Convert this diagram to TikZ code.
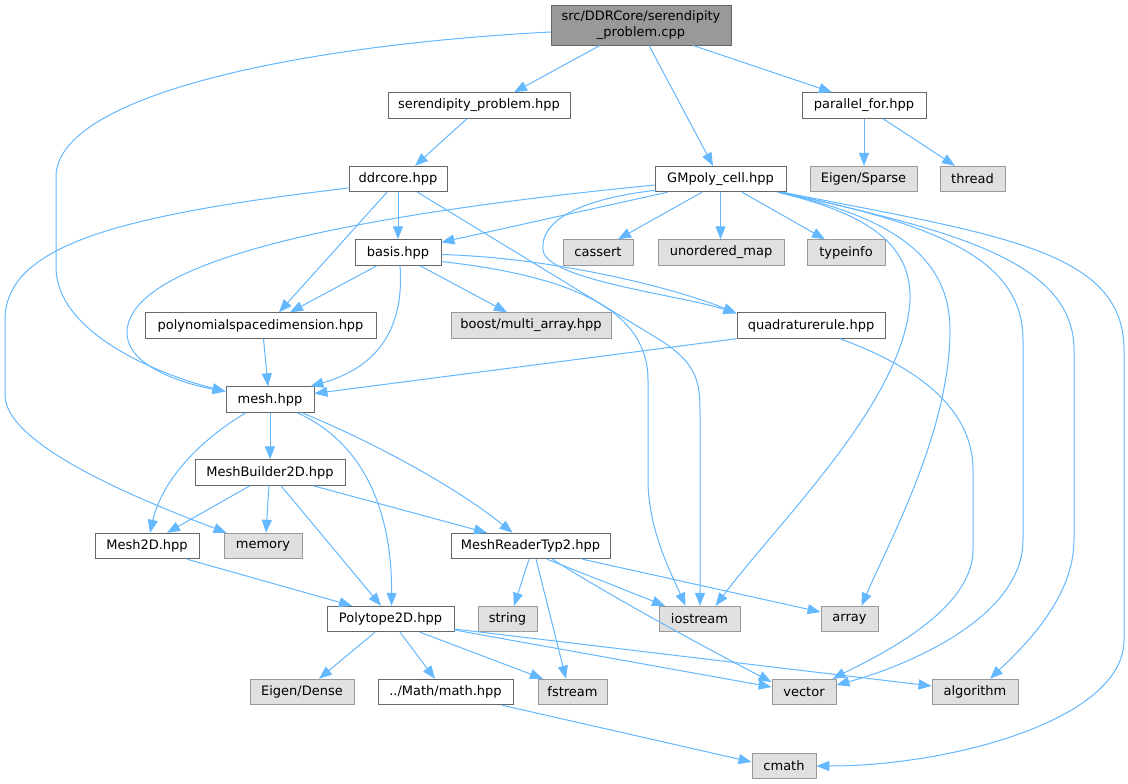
\documentclass[tikz,border=0pt]{standalone}
\usepackage{fontspec}
\setmainfont{DejaVu Sans}
\usetikzlibrary{arrows.meta,calc}
\definecolor{edgec}{HTML}{63B8FF}
\definecolor{bordn}{HTML}{666666}
\definecolor{borde}{HTML}{999999}
\definecolor{fille}{HTML}{E0E0E0}
\definecolor{fillr}{HTML}{999999}
\begin{document}
\begin{tikzpicture}[x=1pt,y=-1pt,font=\fontsize{13}{15.5}\selectfont,
  nbox/.style={draw=bordn,fill=white,line width=0.9pt,minimum height=25.5pt,inner sep=0pt,text=black},
  ebox/.style={draw=borde,fill=fille,line width=0.9pt,minimum height=25.5pt,inner sep=0pt,text=black},
  rbox/.style={draw=bordn,fill=fillr,line width=0.9pt,minimum height=40pt,inner sep=0pt,align=center,text=black},
  conn/.style={draw=edgec,line width=1pt,-{Triangle[length=13pt,width=10pt]}}]
\fill[white] (0,0) rectangle (1128,784);
\useasboundingbox (0,0) rectangle (1128,784);

\node[rbox, minimum width=180pt] (root) at (641,25) {src/DDRCore/serendipity\\\_problem.cpp};
\node[nbox, minimum width=182pt] (sph) at (479,105.5) {serendipity\_problem.hpp};
\node[nbox, minimum width=124pt] (pfor) at (864,105.5) {parallel\_for.hpp};
\node[nbox, minimum width=98pt] (ddr) at (398,179) {ddrcore.hpp};
\node[nbox, minimum width=131pt] (gm) at (720.5,179) {GMpoly\_cell.hpp};
\node[ebox, minimum width=107pt] (es) at (863.5,179) {Eigen/Sparse};
\node[ebox, minimum width=65pt] (thr) at (972.5,179) {thread};
\node[nbox, minimum width=86pt] (basis) at (398,252.5) {basis.hpp};
\node[ebox, minimum width=70pt] (cass) at (598,252.5) {cassert};
\node[ebox, minimum width=126pt] (umap) at (721,252.5) {unordered\_map};
\node[ebox, minimum width=78pt] (tinfo) at (846,252.5) {typeinfo};
\node[nbox, minimum width=231pt] (psd) at (260.5,325.5) {polynomialspacedimension.hpp};
\node[ebox, minimum width=160pt] (boost) at (531,325.5) {boost/multi\_array.hpp};
\node[nbox, minimum width=148pt] (quad) at (811,325.5) {quadraturerule.hpp};
\node[nbox, minimum width=88pt] (mesh) at (270,399.5) {mesh.hpp};
\node[nbox, minimum width=150pt] (mb2d) at (270,472.5) {MeshBuilder2D.hpp};
\node[nbox, minimum width=104pt] (m2d) at (147,546) {Mesh2D.hpp};
\node[ebox, minimum width=78pt] (mem) at (263,546) {memory};
\node[nbox, minimum width=159pt] (mrt) at (530.5,546) {MeshReaderTyp2.hpp};
\node[nbox, minimum width=127pt] (p2d) at (390.5,619) {Polytope2D.hpp};
\node[ebox, minimum width=59pt] (str) at (507.5,619) {string};
\node[ebox, minimum width=81pt] (ios) at (699.5,619) {iostream};
\node[ebox, minimum width=57pt] (arr) at (849.5,619) {array};
\node[ebox, minimum width=104pt] (ed) at (302,692) {Eigen/Dense};
\node[nbox, minimum width=135pt] (math) at (445.5,692) {../Math/math.hpp};
\node[ebox, minimum width=69pt] (fst) at (572.5,692) {fstream};
\node[ebox, minimum width=64pt] (vec) at (804,692) {vector};
\node[ebox, minimum width=86pt] (alg) at (975,692) {algorithm};
\node[ebox, minimum width=64pt] (cmath) at (784,766) {cmath};

% root
\draw[conn] ($(root.south)+(-41,0)$) -- ($(sph.north)+(35,0)$);
\draw[conn] ($(root.south)+(8,0)$) -- ($(gm.north)+(-7.5,0)$);
\draw[conn] ($(root.south)+(52,0)$) -- ($(pfor.north)+(-32,0)$);
\draw[conn] ($(root.west)+(0,7)$) .. controls (300,45) and (56,95) .. (56,177) -- (56,267) .. controls (56,330) and (150,372) .. ($(mesh.west)+(0,-8)$);
% sph, pfor
\draw[conn] ($(sph.south)+(-12,0)$) -- ($(ddr.north)+(17,0)$);
\draw[conn] (pfor.south) -- (pfor.south |- es.north);
\draw[conn] ($(pfor.south)+(19,0)$) -- ($(thr.north)+(-17.5,0)$);
% GMpoly
\draw[conn] ($(gm.west)+(0,6)$) .. controls (350,215) and (127,260) .. (127,333) .. controls (127,365) and (180,383) .. ($(mesh.west)+(0,-8)$);
\draw[conn] ($(gm.south)+(-53,0)$) -- ($(basis.north east)+(0,3)$);
\draw[conn] ($(gm.south west)+(2,-2)$) .. controls (570,200) and (540,225) .. (543,250) .. controls (546,280) and (680,295) .. ($(quad.north west)+(0,1)$);
\draw[conn] ($(gm.south)+(-18.5,0)$) -- ($(cass.north)+(20,0)$);
\draw[conn] (gm.south) -- (gm.south |- umap.north);
\draw[conn] ($(gm.south)+(21.5,0)$) -- ($(tinfo.north)+(-21,0)$);
\draw[conn] ($(gm.south east)+(-9,0)$) .. controls (860,212) and (912,240) .. (910,300) .. controls (905,400) and (780,520) .. ($(ios.north)+(16,0)$);
\draw[conn] ($(gm.south east)+(-8,0)$) .. controls (880,215) and (950,250) .. (950,330) .. controls (950,430) and (890,540) .. ($(arr.north)+(12,0)$);
\draw[conn] ($(gm.south east)+(-7,0)$) .. controls (940,225) and (1023,260) .. (1023,340) -- (1023,540) .. controls (1023,620) and (900,668) .. ($(vec.east)+(0,-7)$);
\draw[conn] ($(gm.south east)+(-6,0)$) .. controls (950,230) and (1074,260) .. (1074,350) -- (1074,540) .. controls (1074,600) and (1020,650) .. ($(alg.north)+(15,0)$);
\draw[conn] ($(gm.south east)+(-4,0)$) .. controls (1000,235) and (1124,250) .. (1124,350) -- (1124,640) .. controls (1124,720) and (950,766) .. (cmath.east);
% ddrcore
\draw[conn] (ddr.south) -- (basis.north);
\draw[conn] ($(ddr.south)+(-11,0)$) -- ($(psd.north)+(18.5,0)$);
\draw[conn] ($(ddr.west)+(0,9)$) .. controls (120,215) and (5,245) .. (5,320) -- (5,395) .. controls (5,445) and (140,500) .. ($(mem.north west)+(3,0)$);
\draw[conn] ($(ddr.south east)+(-30,0)$) -- (660,340) .. controls (695,362) and (700,380) .. (700,410) -- ($(ios.north)+(0.5,0)$);
% basis
\draw[conn] ($(basis.south)+(-21,0)$) -- ($(psd.north)+(29.5,0)$);
\draw[conn] ($(basis.south)+(2,0)$) .. controls (404,320) and (385,365) .. ($(mesh.north east)+(-4,0)$);
\draw[conn] ($(basis.south)+(22,0)$) -- ($(boost.north)+(-24,0)$);
\draw[conn] ($(basis.east)+(0,2)$) .. controls (560,258) and (680,290) .. ($(quad.north west)+(0,1)$);
\draw[conn] ($(basis.east)+(0,9)$) .. controls (560,275) and (648,305) .. (648,380) -- (648,480) .. controls (648,530) and (672,575) .. ($(ios.north)+(-14,0)$);
% psd, quad
\draw[conn] ($(psd.south)+(3,0)$) -- ($(mesh.north)+(-2,0)$);
\draw[conn] (quad.south west) -- ($(mesh.east)+(0,-6)$);
\draw[conn] ($(quad.south)+(29,0)$) .. controls (920,368) and (973,410) .. (973,470) -- (973,550) .. controls (973,610) and (880,655) .. ($(vec.north east)+(-4,0)$);
% mesh
\draw[conn] ($(mesh.south)+(-24,0)$) .. controls (200,440) and (162,480) .. ($(m2d.north)+(3,0)$);
\draw[conn] (mesh.south) -- (mb2d.north);
\draw[conn] ($(mesh.south)+(27,0)$) .. controls (380,450) and (392,540) .. ($(p2d.north)+(1,0)$);
\draw[conn] ($(mesh.south)+(32,0)$) .. controls (380,445) and (460,490) .. ($(mrt.north)+(-18,0)$);
% MeshBuilder2D
\draw[conn] ($(mb2d.south)+(-20,0)$) -- ($(m2d.north)+(20,0)$);
\draw[conn] ($(mb2d.south)+(-1,0)$) -- ($(mem.north)+(3,0)$);
\draw[conn] ($(mb2d.south)+(11,0)$) -- ($(p2d.north)+(-9.5,0)$);
\draw[conn] ($(mb2d.south)+(43,0)$) -- ($(mrt.north)+(-43.5,0)$);
% Mesh2D
\draw[conn] ($(m2d.south)+(40,0)$) -- ($(p2d.north)+(-38.5,0)$);
% MeshReaderTyp2
\draw[conn] ($(mrt.south)+(-1.5,0)$) -- ($(str.north)+(6.5,0)$);
\draw[conn] ($(mrt.south)+(5.5,0)$) -- ($(fst.north)+(-6.5,0)$);
\draw[conn] ($(mrt.south)+(16.5,0)$) -- ($(ios.north)+(-34.5,0)$);
\draw[conn] ($(mrt.south)+(22,0)$) .. controls (600,590) and (700,645) .. ($(vec.west)+(0,-10)$);
\draw[conn] ($(mrt.south east)+(-28,0)$) -- ($(arr.west)+(0,-7)$);
% Polytope2D
\draw[conn] ($(p2d.south)+(-15.5,0)$) -- ($(ed.north)+(17,0)$);
\draw[conn] ($(p2d.south)+(9.5,0)$) -- ($(math.north)+(-10.5,0)$);
\draw[conn] ($(p2d.south)+(29.5,0)$) -- ($(fst.north)+(-29.5,0)$);
\draw[conn] ($(p2d.east)+(0,11)$) -- ($(vec.west)+(0,-5)$);
\draw[conn] ($(p2d.east)+(0,10)$) -- ($(alg.west)+(0,-6)$);
% math
\draw[conn] ($(math.south)+(56.5,0)$) -- ($(cmath.west)+(0,-4)$);
\end{tikzpicture}
\end{document}
